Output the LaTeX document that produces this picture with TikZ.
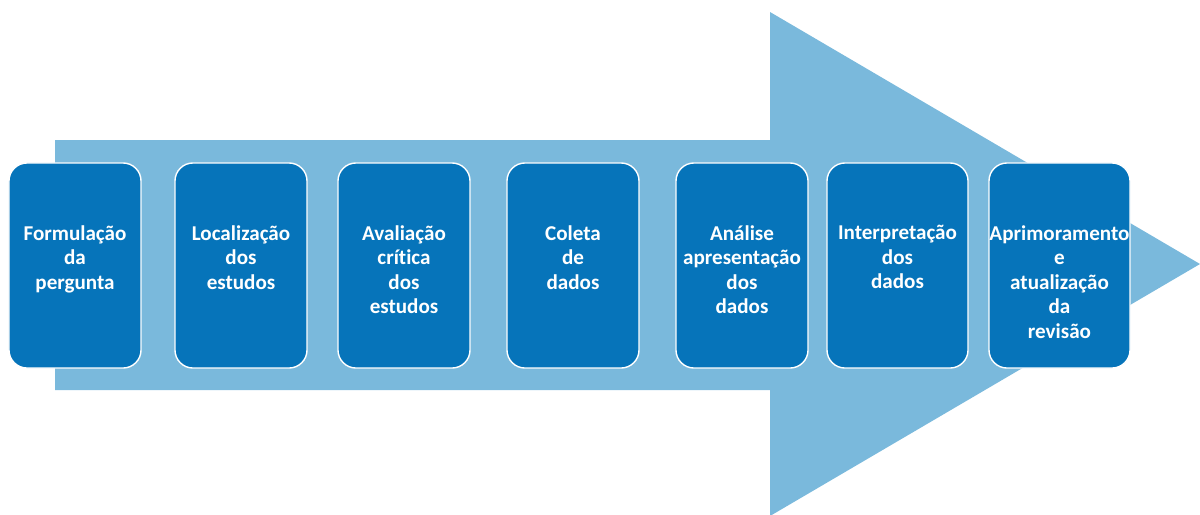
\documentclass[tikz,border=0pt]{standalone}
\usepackage{fontspec}
\setmainfont{Carlito}[Ligatures=NoCommon]
\usetikzlibrary{positioning}
\definecolor{arrowblue}{RGB}{122,185,220}
\definecolor{boxblue}{RGB}{6,116,186}

\begin{document}
\begin{tikzpicture}[x=0.025cm, y=-0.025cm, node distance=1.575cm]
    % Define styles
    \tikzstyle{stepbox} = [rectangle, draw=white, line width=1pt, fill=boxblue, rounded corners=0.45cm, minimum width=3.3cm, minimum height=5.125cm, inner sep=0pt]
    \tikzstyle{widebox} = [stepbox, minimum width=3.525cm]
    \tikzstyle{steptext} = [text=white, font=\bfseries\fontsize{15}{17.4}\selectfont, align=center, inner sep=0pt, execute at begin node={\rule{0pt}{14pt}}]

    \useasboundingbox (0,0) rectangle (1200,514);

    % Big arrow behind the steps
    \fill[arrowblue] (55,140) -- (770,140) -- (770,12) -- (1200,264) -- (770,516) -- (770,390) -- (55,390) -- cycle;

    % Place nodes
    \node [stepbox] (formulacao) at (75,265.5) {};
    \node [stepbox] (localizacao) at (241,265.5) {};
    \node [stepbox] (avaliacao) at (404,265.5) {};
    \node [stepbox] (coleta) at (573,265.5) {};
    \node [stepbox] (analise) at (742,265.5) {};
    \node [widebox] (interpretacao) at (897.5,265.5) {};
    \node [widebox] (aprimoramento) at (1059.5,265.5) {};

    % Texts
    \node [steptext, below=of formulacao.north] {Formulação\\da\\pergunta};
    \node [steptext, below=of localizacao.north] {Localização\\dos\\estudos};
    \node [steptext, below=of avaliacao.north] {Avaliação\\crítica\\dos\\estudos};
    \node [steptext, below=of coleta.north] {Coleta\\de\\dados};
    \node [steptext, below=of analise.north] {Análise\\apresentação\\dos\\dados};
    \node [steptext, below=of interpretacao.north] {Interpretação\\dos\\dados};
    \node [steptext, below=of aprimoramento.north] {Aprimoramento\\e\\atualização\\da\\revisão};

\end{tikzpicture}
\end{document}
